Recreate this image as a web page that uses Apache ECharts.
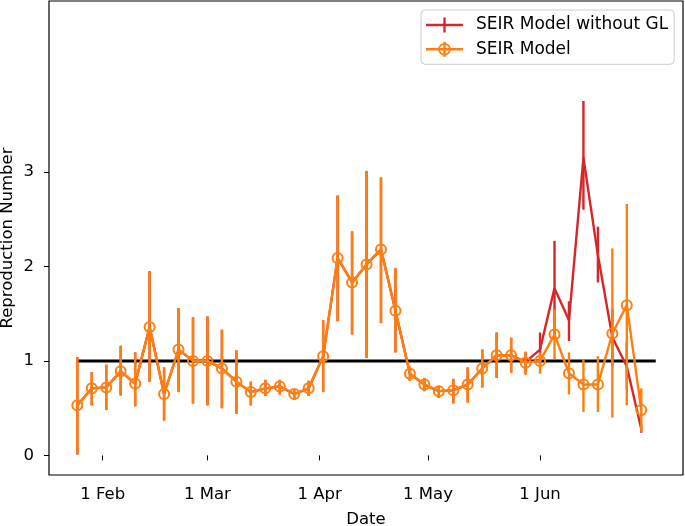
<!DOCTYPE html>
<html>
<head>
<meta charset="utf-8">
<script src="https://cdn.jsdelivr.net/npm/echarts@6/dist/echarts.min.js"></script>
<style>
  html, body { margin: 0; padding: 0; background: #fff; }
  #chart { width: 685px; height: 526px; }
</style>
</head>
<body>
<div id="chart"></div>
<script>
// ---- data ----
const dates = [
  '2020-01-25','2020-01-29','2020-02-02','2020-02-06','2020-02-10','2020-02-14','2020-02-18','2020-02-22',
  '2020-02-26','2020-03-01','2020-03-05','2020-03-09','2020-03-13','2020-03-17','2020-03-21','2020-03-25',
  '2020-03-29','2020-04-02','2020-04-06','2020-04-10','2020-04-14','2020-04-18','2020-04-22','2020-04-26',
  '2020-04-30','2020-05-04','2020-05-08','2020-05-12','2020-05-16','2020-05-20','2020-05-24','2020-05-28',
  '2020-06-01','2020-06-05','2020-06-09','2020-06-13','2020-06-17','2020-06-21','2020-06-25','2020-06-29'
];

// SEIR Model (orange)
const seirValue = [0.53,0.71,0.72,0.89,0.76,1.36,0.65,1.12,1.00,1.00,0.92,0.78,0.67,0.71,0.73,0.65,
                   0.71,1.05,2.09,1.83,2.02,2.18,1.53,0.865,0.75,0.68,0.69,0.75,0.92,1.06,1.06,0.98,
                   1.00,1.28,0.87,0.75,0.75,1.29,1.59,0.48];
const seirLow   = [0.01,0.53,0.48,0.635,0.52,0.78,0.37,0.67,0.55,0.53,0.50,0.44,0.53,0.63,0.645,0.59,
                   0.63,0.67,1.42,1.28,1.03,1.40,1.09,0.79,0.68,0.61,0.55,0.56,0.72,0.82,0.875,0.85,
                   0.865,1.02,0.645,0.46,0.46,0.40,0.53,0.25];
const seirHigh  = [1.04,0.88,0.96,1.16,1.09,1.95,0.93,1.56,1.46,1.47,1.33,1.11,0.78,0.80,0.80,0.70,
                   0.79,1.43,2.75,2.37,3.01,2.94,1.98,0.94,0.82,0.73,0.81,0.93,1.12,1.30,1.245,1.10,
                   1.09,1.545,1.09,1.02,1.05,2.19,2.66,0.71];

// SEIR Model without GL (red) - identical to the SEIR model until late May
const noGlValue = [0.53,0.71,0.72,0.89,0.76,1.36,0.65,1.12,1.00,1.00,0.92,0.78,0.67,0.71,0.73,0.65,
                   0.71,1.05,2.09,1.83,2.02,2.18,1.53,0.865,0.75,0.68,0.69,0.75,0.92,1.06,1.06,0.99,
                   1.12,1.77,1.43,3.15,2.12,1.25,0.94,0.28];
const noGlLow   = [0.01,0.53,0.48,0.635,0.52,0.78,0.37,0.67,0.55,0.53,0.50,0.44,0.53,0.63,0.645,0.59,
                   0.63,0.67,1.42,1.28,1.03,1.40,1.09,0.79,0.68,0.61,0.55,0.56,0.72,0.82,0.875,0.87,
                   0.94,1.27,1.21,2.60,1.83,0.95,0.70,0.24];
const noGlHigh  = [1.04,0.88,0.96,1.16,1.09,1.95,0.93,1.56,1.46,1.47,1.33,1.11,0.78,0.80,0.80,0.70,
                   0.79,1.43,2.75,2.37,3.01,2.94,1.98,0.94,0.82,0.73,0.81,0.93,1.12,1.30,1.245,1.09,
                   1.30,2.27,1.63,3.75,2.42,1.55,1.20,0.33];

// reference line R = 1
const refLineDates = ['2020-01-25', '2020-07-03'];
const refLineValue = 1;

// axis ticks
const xTickDates = ['2020-02-01','2020-03-01','2020-04-01','2020-05-01','2020-06-01'];
const monthNames = ['Jan','Feb','Mar','Apr','May','Jun','Jul','Aug','Sep','Oct','Nov','Dec'];
const yTicks = [0, 1, 2, 3];

const seriesNames = ['SEIR Model without GL', 'SEIR Model'];

// ---- helpers ----
function ts(s) { const p = s.split('-').map(Number); return new Date(p[0], p[1] - 1, p[2]).getTime(); }

const ORANGE = '#ff7f0e', RED = '#d62728';
const FONT = 'DejaVu Sans';
const LW = 2.4;

function errData(lo, hi) { return dates.map((d, i) => [ts(d), lo[i], hi[i]]); }
function lineData(v) { return dates.map((d, i) => [ts(d), v[i]]); }

function errRender(color) {
  return function (params, api) {
    const x = api.value(0);
    const p1 = api.coord([x, api.value(1)]);
    const p2 = api.coord([x, api.value(2)]);
    return {
      type: 'line',
      shape: { x1: p1[0], y1: p1[1], x2: p2[0], y2: p2[1] },
      style: { stroke: color, lineWidth: LW }
    };
  };
}

const redIcon = 'path://M0,6.3H17.3V0H19.7V6.3H37V8.7H19.7V15H17.3V8.7H0Z';
const orangeIcon = 'path://M0,6.3H17.3V0H19.7V6.3H37V8.7H19.7V15H17.3V8.7H0Z' +
  'M24.8,7.5A6.3,6.3,0,1,1,12.2,7.5A6.3,6.3,0,1,1,24.8,7.5Z' +
  'M23.1,7.5A4.6,4.6,0,1,0,13.9,7.5A4.6,4.6,0,1,0,23.1,7.5Z';

const chart = echarts.init(document.getElementById('chart'), null, { renderer: 'canvas' });

chart.setOption({
  animation: false,
  backgroundColor: '#fff',
  textStyle: { fontFamily: FONT },
  grid: {
    left: 49, right: 2, top: 1, bottom: 51,
    outerBoundsMode: 'none', containLabel: false,
    show: true, borderColor: '#000', borderWidth: 1.2, backgroundColor: 'transparent'
  },
  legend: {
    left: 421, top: 10,
    orient: 'vertical',
    itemWidth: 37, itemHeight: 15,
    itemGap: 4.3,
    padding: [5, 6, 5, 5],
    backgroundColor: 'rgba(255,255,255,0.8)',
    borderColor: '#cccccc', borderWidth: 1, borderRadius: 4,
    textStyle: { fontFamily: FONT, fontSize: 17, color: '#000', lineHeight: 20, padding: [0, 0, 0, 8] },
    data: [
      { name: seriesNames[0], icon: redIcon, itemStyle: { color: RED, borderWidth: 0 } },
      { name: seriesNames[1], icon: orangeIcon, itemStyle: { color: ORANGE, borderWidth: 0 } }
    ]
  },
  xAxis: {
    type: 'value',
    min: new Date(2020, 0, 17, 4).getTime(),
    max: new Date(2020, 6, 10, 13).getTime(),
    name: 'Date', nameLocation: 'middle', nameGap: 36, nameMoveOverlap: false,
    nameTextStyle: { fontFamily: FONT, fontSize: 16.5, color: '#000' },
    axisLine: { show: false },
    axisTick: { show: true, length: 5, lineStyle: { color: '#000', width: 1 }, customValues: xTickDates.map(ts) },
    axisLabel: {
      fontFamily: FONT, fontSize: 16.5, color: '#000', margin: 11,
      customValues: xTickDates.map(ts),
      formatter: function (v) { return '1 ' + monthNames[new Date(v).getMonth()]; }
    },
    splitLine: { show: false }
  },
  yAxis: {
    type: 'value',
    min: -0.207, max: 4.808,
    name: 'Reproduction Number', nameLocation: 'middle', nameGap: 33, nameMoveOverlap: false,
    nameTextStyle: { fontFamily: FONT, fontSize: 16.5, color: '#000' },
    axisLine: { show: false },
    axisTick: { show: true, length: 5, lineStyle: { color: '#000', width: 1 }, customValues: yTicks },
    axisLabel: { fontFamily: FONT, fontSize: 16.5, color: '#000', margin: 15, customValues: yTicks },
    splitLine: { show: false }
  },
  series: [
    {
      name: 'R = 1', type: 'line', z: 1,
      data: refLineDates.map(d => [ts(d), refLineValue]),
      symbol: 'none', silent: true,
      lineStyle: { color: '#000', width: 3 }
    },
    {
      name: seriesNames[0], type: 'line', z: 2,
      data: lineData(noGlValue),
      symbol: 'none',
      itemStyle: { color: RED },
      lineStyle: { color: RED, width: LW }
    },
    {
      name: seriesNames[0] + ' err', type: 'custom', z: 2,
      data: errData(noGlLow, noGlHigh),
      encode: { x: 0, y: [1, 2] },
      renderItem: errRender(RED)
    },
    {
      name: seriesNames[1] + ' err', type: 'custom', z: 3,
      data: errData(seirLow, seirHigh),
      encode: { x: 0, y: [1, 2] },
      renderItem: errRender(ORANGE)
    },
    {
      name: seriesNames[1], type: 'line', z: 4,
      data: lineData(seirValue),
      symbol: 'circle', symbolSize: 10, showAllSymbol: true,
      itemStyle: { color: 'rgba(0,0,0,0)', borderColor: ORANGE, borderWidth: 2 },
      lineStyle: { color: ORANGE, width: LW }
    }
  ]
});
</script>
</body>
</html>
